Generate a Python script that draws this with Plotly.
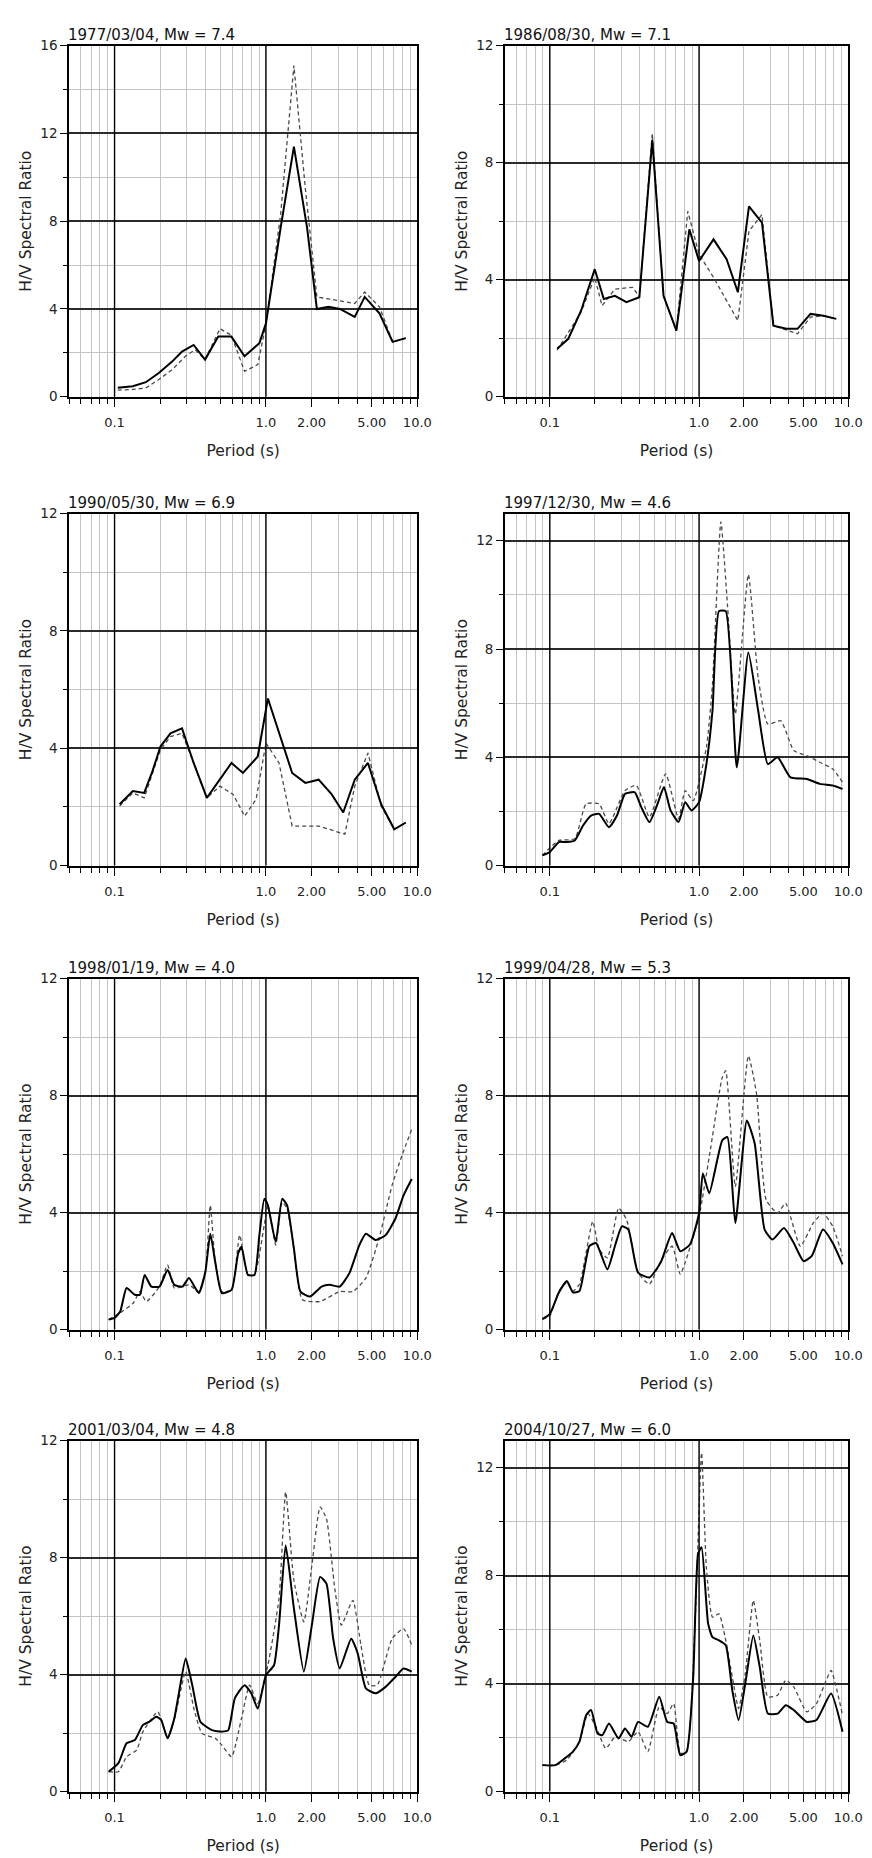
import plotly.graph_objects as go

# titles and y-axis upper limits of the eight panels
titles = ["1977/03/04, Mw = 7.4", "1986/08/30, Mw = 7.1",
          "1990/05/30, Mw = 6.9", "1997/12/30, Mw = 4.6",
          "1998/01/19, Mw = 4.0", "1999/04/28, Mw = 5.3",
          "2001/03/04, Mw = 4.8", "2004/10/27, Mw = 6.0"]
y_top = [16, 12, 12, 13, 12, 12, 12, 13]

tick_periods = [0.1, 1, 2, 5, 10]
tick_labels = ["0.1", "1.0", "2.00", "5.00", "10.0"]
decade_lines = [0.1, 1.0]

# panel 1
p1_solid_T = [0.105, 0.132, 0.161, 0.196, 0.24, 0.279, 0.333, 0.396, 0.484, 0.591, 0.722, 0.905,
              1.0, 1.25, 1.53, 1.87, 2.17, 2.59, 3.08, 3.86, 4.49, 5.62, 6.87, 8.39]
p1_solid_hv = [0.41, 0.48, 0.66, 1.08, 1.6, 2.06, 2.36, 1.69, 2.74, 2.74, 1.84, 2.44,
               3.34, 7.7, 11.4, 7.7, 4.0, 4.1, 4.0, 3.64, 4.55, 3.8, 2.5, 2.67]
p1_dash_T = [0.105, 0.132, 0.161, 0.196, 0.24, 0.293, 0.341, 0.396, 0.497, 0.591, 0.722, 0.883,
             1.0, 1.25, 1.53, 1.82, 2.17, 2.93, 3.86, 4.49, 5.62, 6.87, 8.39]
p1_dash_hv = [0.3, 0.33, 0.4, 0.78, 1.23, 1.84, 2.14, 1.69, 3.1, 2.8, 1.16, 1.46,
              3.3, 8.3, 15.1, 9.5, 4.55, 4.4, 4.25, 4.77, 4.1, 2.5, 2.67]

# panel 2
p2_solid_T = [0.112, 0.133, 0.162, 0.188, 0.2, 0.23, 0.273, 0.326, 0.398, 0.486, 0.578, 0.705, 0.861,
              1.0, 1.25, 1.53, 1.82, 2.16, 2.64, 3.15, 3.84, 4.57, 5.58, 6.81, 8.31]
p2_solid_hv = [1.64, 1.98, 2.94, 3.96, 4.36, 3.34, 3.45, 3.23, 3.4, 8.78, 3.45, 2.26, 5.72,
               4.64, 5.38, 4.7, 3.57, 6.51, 5.95, 2.43, 2.32, 2.32, 2.83, 2.77, 2.66]
p2_dash_T = [0.112, 0.162, 0.2, 0.224, 0.273, 0.36, 0.398, 0.486, 0.578, 0.705, 0.84,
             1.0, 1.25, 1.53, 1.82, 2.16, 2.64, 3.15, 4.57, 5.58, 6.81, 8.31]
p2_dash_hv = [1.59, 2.89, 4.08, 3.11, 3.68, 3.74, 3.4, 9.0, 3.45, 2.26, 6.34,
              4.87, 4.08, 3.28, 2.6, 5.66, 6.23, 2.43, 2.15, 2.72, 2.77, 2.66]

# panel 3
p3_solid_T = [0.108, 0.132, 0.157, 0.178, 0.201, 0.234, 0.279, 0.333, 0.407, 0.497, 0.592, 0.705, 0.883,
              1.03, 1.22, 1.49, 1.82, 2.23, 2.72, 3.24, 3.86, 4.72, 5.77, 7.04, 8.4]
p3_solid_hv = [2.09, 2.54, 2.48, 3.22, 4.06, 4.51, 4.68, 3.5, 2.31, 2.93, 3.5, 3.16, 3.72,
               5.7, 4.51, 3.16, 2.82, 2.93, 2.43, 1.81, 2.93, 3.5, 2.09, 1.24, 1.47]
p3_dash_T = [0.108, 0.132, 0.157, 0.201, 0.234, 0.279, 0.333, 0.407, 0.497, 0.607, 0.723, 0.861,
             1.0, 1.22, 1.49, 2.23, 3.32, 3.86, 4.72, 5.77, 7.04, 8.4]
p3_dash_hv = [2.03, 2.48, 2.31, 3.95, 4.4, 4.51, 3.5, 2.31, 2.71, 2.43, 1.69, 2.26,
              4.18, 3.5, 1.35, 1.35, 1.07, 2.71, 3.84, 2.03, 1.24, 1.47]

# panel 4
p4_solid_T = [0.0891, 0.1, 0.115, 0.13, 0.147, 0.167, 0.189, 0.214, 0.249, 0.282, 0.319, 0.371,
              0.41, 0.465, 0.527, 0.582, 0.644, 0.729, 0.807, 0.891, 1.0, 1.12, 1.23, 1.36,
              1.51, 1.79, 2.14, 2.49, 2.89, 3.36, 4.1, 5.27, 6.44, 7.87, 9.15]
p4_solid_hv = [0.38, 0.5, 0.87, 0.87, 0.93, 1.48, 1.85, 1.91, 1.42, 1.85, 2.65, 2.71,
               2.16, 1.61, 2.28, 2.9, 2.04, 1.61, 2.34, 2.04, 2.34, 3.75, 5.72, 9.4,
               9.4, 3.63, 7.87, 5.72, 3.75, 4.0, 3.26, 3.2, 3.02, 2.96, 2.83]
p4_dash_T = [0.0891, 0.115, 0.147, 0.175, 0.214, 0.249, 0.319, 0.38, 0.465, 0.597, 0.729, 0.807,
             0.914, 1.12, 1.23, 1.4, 1.55, 1.75, 2.14, 2.49, 2.89, 3.53, 4.31, 5.27, 6.44, 7.87, 9.15]
p4_dash_hv = [0.38, 0.93, 0.99, 2.28, 2.28, 1.55, 2.77, 2.96, 1.79, 3.39, 1.73, 2.77,
              2.4, 4.37, 6.7, 12.7, 9.64, 5.6, 10.75, 6.94, 5.23, 5.35, 4.25, 4.06, 3.82, 3.57, 3.08]

# panel 5
p5_solid_T = [0.0914, 0.1, 0.109, 0.12, 0.136, 0.147, 0.158, 0.175, 0.198, 0.224, 0.248, 0.281,
              0.31, 0.36, 0.398, 0.429, 0.462, 0.511, 0.593, 0.655, 0.689, 0.76, 0.84, 0.905,
              0.975, 1.03, 1.16, 1.28, 1.38, 1.53, 1.69, 1.96, 2.33, 2.64, 3.07, 3.56, 4.14,
              4.57, 5.31, 6.17, 7.16, 8.11, 9.19]
p5_solid_hv = [0.34, 0.4, 0.62, 1.42, 1.19, 1.19, 1.87, 1.47, 1.47, 2.04, 1.53, 1.47,
               1.76, 1.25, 1.98, 3.28, 2.32, 1.25, 1.36, 2.6, 2.83, 1.87, 1.87, 3.23,
               4.47, 4.25, 3.0, 4.47, 4.25, 2.77, 1.3, 1.13, 1.47, 1.53, 1.47, 1.93, 2.89,
               3.28, 3.06, 3.23, 3.79, 4.59, 5.15]
p5_dash_T = [0.0914, 0.109, 0.133, 0.147, 0.162, 0.198, 0.224, 0.248, 0.31, 0.36, 0.398, 0.429,
             0.462, 0.511, 0.593, 0.671, 0.76, 0.84, 0.975, 1.03, 1.16, 1.28, 1.38, 1.53,
             1.74, 2.28, 3.07, 3.75, 4.57, 5.58, 6.81, 7.91, 9.19]
p5_dash_hv = [0.34, 0.57, 0.91, 1.3, 0.96, 1.47, 2.21, 1.42, 1.53, 1.3, 1.98, 4.25,
              2.32, 1.3, 1.36, 3.23, 1.87, 1.87, 3.57, 4.25, 2.89, 4.36, 4.13, 2.77,
              1.02, 0.96, 1.3, 1.3, 1.76, 3.11, 4.93, 5.95, 6.85]

# panel 6
p6_solid_T = [0.0891, 0.1, 0.115, 0.13, 0.143, 0.158, 0.184, 0.204, 0.243, 0.275, 0.304, 0.336,
              0.39, 0.465, 0.553, 0.66, 0.748, 0.869, 1.0, 1.06, 1.17, 1.43, 1.55, 1.75,
              2.09, 2.36, 2.75, 3.11, 3.71, 4.31, 5.01, 5.68, 6.76, 7.87, 9.15]
p6_solid_hv = [0.36, 0.53, 1.27, 1.66, 1.27, 1.32, 2.85, 2.96, 2.06, 2.91, 3.53, 3.42,
               1.95, 1.78, 2.29, 3.3, 2.68, 2.91, 3.98, 5.34, 4.66, 6.47, 6.58, 3.64,
               7.15, 6.36, 3.42, 3.08, 3.47, 2.96, 2.34, 2.51, 3.42, 2.96, 2.23]
p6_dash_T = [0.0891, 0.1, 0.115, 0.13, 0.143, 0.158, 0.194, 0.214, 0.243, 0.289, 0.327, 0.39,
             0.465, 0.553, 0.66, 0.748, 0.807, 1.0, 1.17, 1.43, 1.51, 1.75, 2.14, 2.43,
             2.82, 3.36, 3.8, 4.77, 5.82, 6.76, 7.87, 9.15]
p6_dash_hv = [0.36, 0.47, 1.32, 1.61, 1.32, 1.55, 3.7, 2.74, 2.45, 4.15, 3.76, 1.95,
              1.55, 2.34, 2.85, 1.89, 2.29, 3.87, 5.9, 8.62, 8.85, 4.89, 9.36, 8.05,
              4.43, 3.98, 4.32, 2.85, 3.64, 3.98, 3.53, 2.51]

# panel 7
p7_solid_T = [0.0914, 0.106, 0.12, 0.136, 0.154, 0.17, 0.188, 0.203, 0.224, 0.248, 0.267, 0.295,
              0.326, 0.369, 0.44, 0.511, 0.564, 0.623, 0.723, 0.8, 0.883, 1.0, 1.13, 1.22,
              1.35, 1.53, 1.78, 2.01, 2.28, 2.51, 2.78, 3.07, 3.66, 4.04, 4.57, 5.31, 6.17,
              7.16, 8.11, 9.19]
p7_solid_hv = [0.68, 0.97, 1.65, 1.76, 2.28, 2.39, 2.56, 2.45, 1.82, 2.5, 3.41, 4.55,
               3.64, 2.39, 2.1, 2.05, 2.1, 3.19, 3.64, 3.36, 2.84, 3.98, 4.32, 5.69,
               8.42, 6.26, 4.1, 5.69, 7.34, 7.11, 5.23, 4.21, 5.23, 4.72, 3.53, 3.36, 3.58,
               3.92, 4.21, 4.1]
p7_dash_T = [0.0914, 0.106, 0.12, 0.14, 0.154, 0.193, 0.224, 0.248, 0.295, 0.334, 0.378, 0.463,
             0.511, 0.593, 0.689, 0.78, 0.883, 1.03, 1.22, 1.35, 1.53, 1.78, 2.01, 2.28,
             2.51, 2.85, 3.15, 3.75, 4.24, 4.81, 5.44, 6.81, 8.11, 9.19]
p7_dash_hv = [0.68, 0.68, 1.19, 1.42, 2.05, 2.73, 1.82, 2.45, 4.1, 2.84, 1.99, 1.82,
              1.59, 1.19, 2.5, 3.64, 3.01, 4.32, 6.6, 10.24, 7.22, 5.8, 7.73, 9.73,
              9.33, 6.94, 5.69, 6.54, 5.01, 3.64, 3.64, 5.23, 5.57, 5.0]

# panel 8
p8_solid_T = [0.0891, 0.109, 0.126, 0.143, 0.158, 0.175, 0.189, 0.209, 0.225, 0.249, 0.289, 0.319,
              0.353, 0.39, 0.454, 0.541, 0.612, 0.676, 0.748, 0.826, 0.914, 0.985, 1.04, 1.15,
              1.23, 1.36, 1.51, 1.67, 1.84, 2.04, 2.31, 2.55, 2.89, 3.36, 3.81, 4.31, 5.27,
              6.12, 7.67, 9.15]
p8_solid_hv = [0.98, 0.98, 1.23, 1.48, 1.85, 2.83, 3.02, 2.15, 2.09, 2.52, 1.97, 2.34,
               2.03, 2.58, 2.4, 3.51, 2.58, 2.52, 1.35, 1.48, 4.25, 8.8, 9.05, 6.22,
               5.72, 5.6, 5.42, 3.75, 2.65, 4.0, 5.78, 4.62, 2.89, 2.89, 3.2, 3.02, 2.58,
               2.65, 3.63, 2.22]
p8_dash_T = [0.0891, 0.109, 0.13, 0.158, 0.18, 0.204, 0.237, 0.275, 0.336, 0.39, 0.454, 0.541,
             0.612, 0.676, 0.748, 0.826, 0.938, 1.04, 1.12, 1.23, 1.36, 1.51, 1.67, 1.84,
             2.04, 2.31, 2.55, 2.89, 3.36, 3.81, 4.31, 5.27, 6.12, 7.11, 7.67, 9.15]
p8_dash_hv = [0.98, 0.98, 1.17, 1.85, 2.89, 2.4, 1.6, 2.03, 1.85, 2.22, 1.48, 3.14,
              2.89, 3.26, 1.42, 1.48, 6.09, 12.55, 8.3, 6.46, 6.58, 5.6, 4.25, 3.08,
              4.37, 7.08, 5.6, 3.51, 3.57, 4.12, 3.88, 2.95, 3.26, 4.12, 4.49, 2.83]

panels = [
    (p1_solid_T, p1_solid_hv, p1_dash_T, p1_dash_hv),
    (p2_solid_T, p2_solid_hv, p2_dash_T, p2_dash_hv),
    (p3_solid_T, p3_solid_hv, p3_dash_T, p3_dash_hv),
    (p4_solid_T, p4_solid_hv, p4_dash_T, p4_dash_hv),
    (p5_solid_T, p5_solid_hv, p5_dash_T, p5_dash_hv),
    (p6_solid_T, p6_solid_hv, p6_dash_T, p6_dash_hv),
    (p7_solid_T, p7_solid_hv, p7_dash_T, p7_dash_hv),
    (p8_solid_T, p8_solid_hv, p8_dash_T, p8_dash_hv),
]

W, H = 872, 1858
col_px = [(62, 416), (505, 854)]
row_px = [(30, 384), (502, 857), (971, 1325), (1437, 1791)]

FONT = "DejaVu Sans, Verdana, sans-serif"
GRID = "#c4c4c4"
TXT = "#222"

fig = go.Figure()
layout = {}
shapes = []
annotations = []

for i, (sT, shv, dT, dhv) in enumerate(panels):
    n = i + 1
    xa = "x" if n == 1 else f"x{n}"
    ya = "y" if n == 1 else f"y{n}"
    shape = "linear" if n <= 3 else "spline"

    fig.add_trace(go.Scatter(x=dT, y=dhv, xaxis=xa, yaxis=ya, mode="lines",
                             line=dict(color="#4a4a4a", width=1.3, dash="4px,3px",
                                       shape=shape, smoothing=0.5),
                             showlegend=False))
    fig.add_trace(go.Scatter(x=sT, y=shv, xaxis=xa, yaxis=ya, mode="lines",
                             line=dict(color="black", width=2, shape=shape, smoothing=0.5),
                             showlegend=False))

    c0, c1 = col_px[i % 2]
    r0, r1 = row_px[i // 2]
    xdom = [c0 / W, c1 / W]
    ydom = [1 - r1 / H, 1 - r0 / H]

    layout[f"xaxis{n}"] = dict(
        type="log", range=[-1.301, 1.0], domain=xdom, anchor=ya,
        tickmode="array", tickvals=tick_periods, ticktext=tick_labels,
        showgrid=True, gridcolor=GRID, gridwidth=1,
        showline=True, linecolor="black", linewidth=1.6, mirror=True,
        ticks="outside", ticklen=9, tickwidth=1.3, tickcolor="black",
        ticklabelstandoff=4,
        minor=dict(dtick="D1", showgrid=True, gridcolor=GRID, gridwidth=1,
                   ticks="outside", ticklen=6, tickwidth=1.3, tickcolor="black"),
        tickfont=dict(family=FONT, size=13, color=TXT),
        title=dict(text="Period (s)", font=dict(family=FONT, size=15.5, color=TXT),
                   standoff=16),
        zeroline=False,
    )
    layout[f"yaxis{n}"] = dict(
        range=[0, y_top[i]], domain=ydom, anchor=xa,
        tickmode="linear", tick0=0, dtick=4,
        showgrid=True, gridcolor="#2a2a2a", gridwidth=1.6,
        showline=True, linecolor="black", linewidth=1.6, mirror=True,
        ticks="outside", ticklen=7, tickwidth=1.3, tickcolor="black",
        minor=dict(dtick=2, showgrid=True, gridcolor=GRID, gridwidth=1,
                   ticks="outside", ticklen=4, tickwidth=1, tickcolor="black"),
        tickfont=dict(family=FONT, size=13.5, color=TXT),
        title=dict(text="H/V Spectral Ratio", font=dict(family=FONT, size=15.5, color=TXT),
                   standoff=5),
        zeroline=False,
    )

    for v in decade_lines:
        shapes.append(dict(type="line", xref=xa, yref=f"{ya} domain",
                           x0=v, x1=v, y0=0, y1=1, layer="above",
                           line=dict(color="black", width=1.4)))

    annotations.append(dict(text=titles[i], xref=f"{xa} domain", yref=f"{ya} domain",
                            x=0, y=1, xanchor="left", yanchor="bottom", xshift=-3,
                            showarrow=False,
                            font=dict(family=FONT, size=15, color="#111")))

layout["xaxis"] = layout.pop("xaxis1")
layout["yaxis"] = layout.pop("yaxis1")

fig.update_layout(**layout)
fig.update_layout(
    width=W, height=H,
    margin=dict(l=0, r=0, t=0, b=0),
    paper_bgcolor="white", plot_bgcolor="white",
    shapes=shapes, annotations=annotations,
    font=dict(family=FONT),
)

fig.write_html("out.html")
